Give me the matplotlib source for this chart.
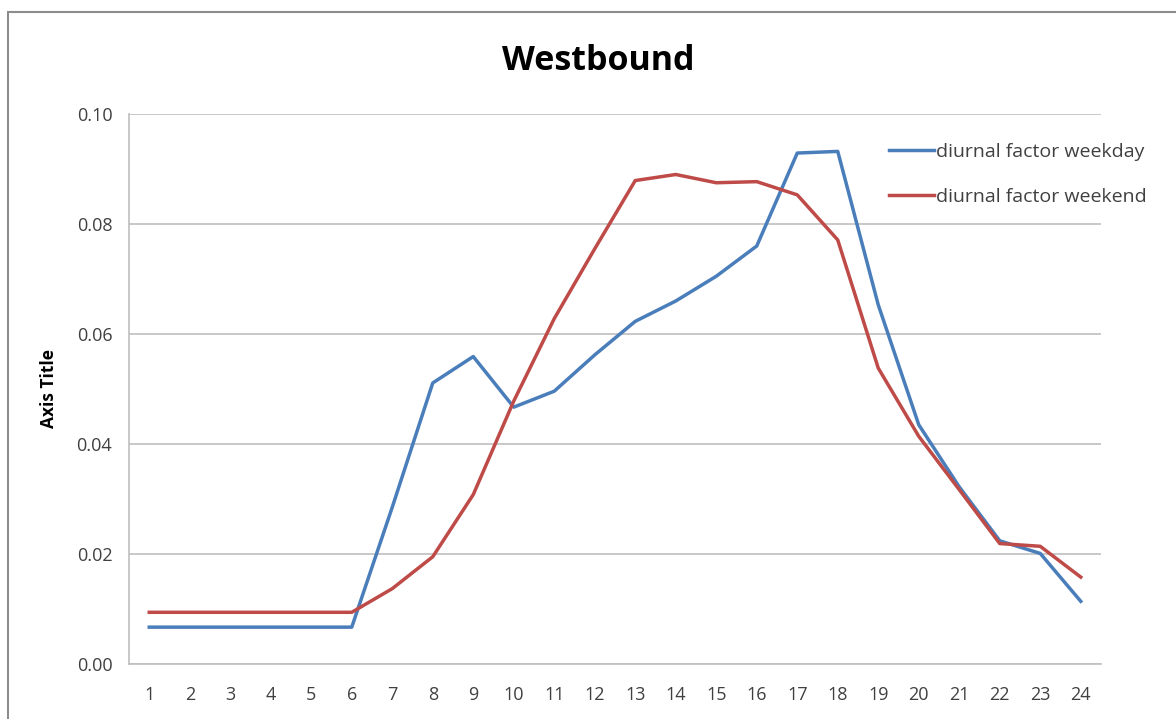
import matplotlib
matplotlib.use("Agg")
import matplotlib.pyplot as plt
from matplotlib.patches import Rectangle

hours = list(range(1, 25))
weekday = [0.0067, 0.0067, 0.0067, 0.0067, 0.0067, 0.0067, 0.0285, 0.0511, 0.0559, 0.0467,
           0.0496, 0.0562, 0.0623, 0.0660, 0.0705, 0.0760, 0.0929, 0.0932, 0.0653, 0.0435,
           0.0322, 0.0224, 0.0201, 0.0114]
weekend = [0.0094, 0.0094, 0.0094, 0.0094, 0.0094, 0.0094, 0.0137, 0.0195, 0.0308, 0.0478,
           0.0628, 0.0755, 0.0879, 0.0890, 0.0875, 0.0877, 0.0853, 0.0771, 0.0538, 0.0414,
           0.0317, 0.0219, 0.0214, 0.0158]
yticks = [0.00, 0.02, 0.04, 0.06, 0.08, 0.10]

W, H = 1176, 719
fig = plt.figure(figsize=(W / 100, H / 100), dpi=100)
fam = ['Open Sans', 'DejaVu Sans']
plt.rcParams['font.family'] = fam

# outer chart frame
fig.patches.append(Rectangle((8 / W, -0.05), 1.2, 1 - 12 / H + 0.05, transform=fig.transFigure,
                             fill=False, edgecolor='#8c8c8c', linewidth=1.5))

left, right, top, bottom = 129, 1101, 114, 664
ax = fig.add_axes([left / W, 1 - bottom / H, (right - left) / W, (bottom - top) / H])

ax.plot(hours, weekday, color='#4a7ebb', linewidth=2.5, label='diurnal factor weekday')
ax.plot(hours, weekend, color='#be4b48', linewidth=2.5, label='diurnal factor weekend')

ax.set_xlim(0.5, 24.5)
ax.set_ylim(0, 0.10)
ax.set_xticks(hours)
ax.set_xticklabels([str(h) for h in hours])
ax.set_yticks(yticks)
ax.set_yticklabels([f"{v:.2f}" for v in yticks])
ax.tick_params(axis='both', length=0, labelsize=13, labelcolor='#404040', pad=12)
ax.tick_params(axis='x', pad=16)
ax.yaxis.grid(True, color='#bfbfbf', linewidth=1.2)
ax.set_axisbelow(True)
for s in ['top', 'right']:
    ax.spines[s].set_visible(False)
ax.spines['left'].set_color('#bfbfbf')
ax.spines['bottom'].set_color('#bfbfbf')
ax.spines['left'].set_linewidth(1.2)
ax.spines['bottom'].set_linewidth(1.2)

fig.text(598 / W, 1 - 61 / H, 'Westbound', ha='center', va='center', fontsize=24.5,
         fontweight='bold')
fig.text(49 / W, 1 - 389 / H, 'Axis Title', ha='center', va='center', rotation=90,
         fontsize=12.5, fontweight='bold')

leg = ax.legend(loc='upper left', bbox_to_anchor=((889 - left) / (right - left), (bottom - 143) / (bottom - top)),
                frameon=False, fontsize=14, handlelength=2.3, handletextpad=0.1,
                labelspacing=1.38, borderaxespad=0, borderpad=0)
for t in leg.get_texts():
    t.set_color('#404040')

fig.savefig('out.png', dpi=100)
